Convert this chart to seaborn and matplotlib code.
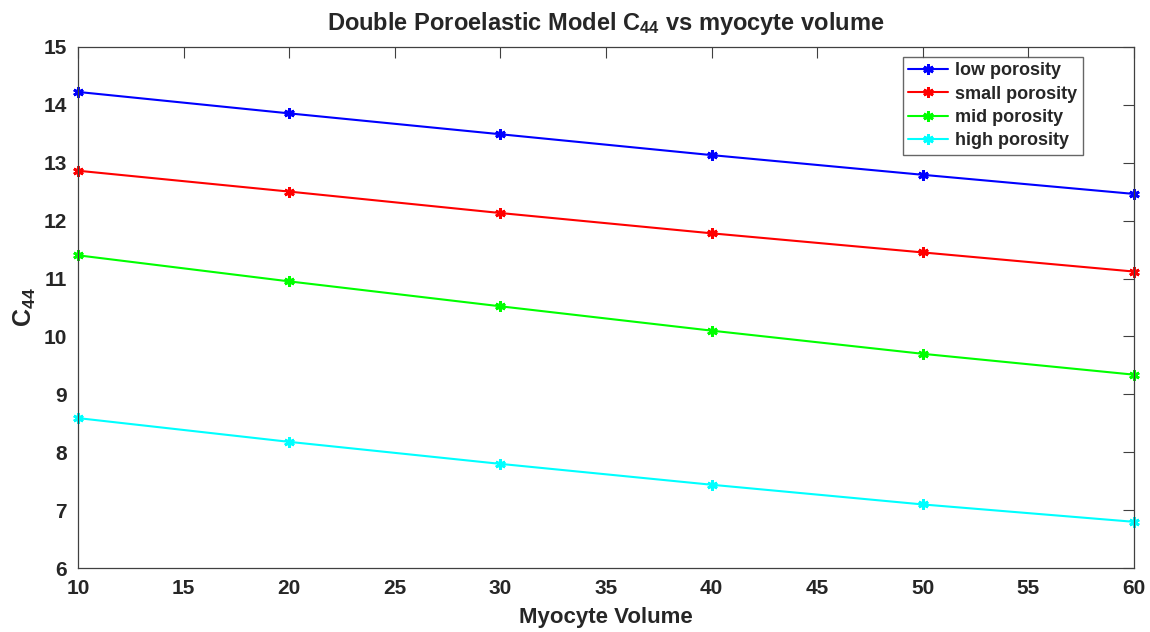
import pandas as pd
import seaborn as sns
from matplotlib import pyplot as plt

volume = [10, 20, 30, 40, 50, 60]
low = [14.22, 13.85, 13.49, 13.13, 12.79, 12.46]
small = [12.86, 12.50, 12.13, 11.78, 11.45, 11.12]
mid = [11.40, 10.95, 10.52, 10.10, 9.70, 9.34]
high = [8.59, 8.18, 7.80, 7.44, 7.10, 6.80]
labels = ['low porosity', 'small porosity', 'mid porosity', 'high porosity']
colors = ['#0000ff', '#ff0000', '#00ff00', '#00ffff']

rows = []
for lab, vals in zip(labels, [low, small, mid, high]):
    for v, c in zip(volume, vals):
        rows.append({'volume': v, 'C44': c, 'porosity': lab})
df = pd.DataFrame(rows)

sns.set_style('white')
plt.rcParams['font.family'] = ['Liberation Sans', 'DejaVu Sans']
plt.rcParams['font.weight'] = 'bold'
plt.rcParams['mathtext.fontset'] = 'custom'
plt.rcParams['mathtext.rm'] = 'Liberation Sans:bold'
plt.rcParams['mathtext.it'] = 'Liberation Sans:bold'
plt.rcParams['mathtext.bf'] = 'Liberation Sans:bold'

fig = plt.figure(figsize=(11.5, 6.32), dpi=100)
ax = fig.add_axes([0.068, 0.101, 0.918, 0.825])

# matlab-style asterisk marker
star = (6, 2, 0)
sns.lineplot(data=df, x='volume', y='C44', hue='porosity', style='porosity',
             palette=dict(zip(labels, colors)), markers=[star] * 4, dashes=False,
             markersize=7.5, markeredgewidth=2.0, linewidth=1.5, ax=ax)
for line in ax.lines:
    line.set_markeredgecolor(line.get_color())
    line.set_clip_on(False)

ax.set_xlim(10, 60)
ax.set_ylim(6, 15)
ax.set_xticks(range(10, 61, 5))
ax.set_yticks(range(6, 16))
ax.tick_params(direction='in', length=8, width=0.8, color='#404040',
               top=True, right=True, labelsize=15, pad=8)
for lbl in ax.get_xticklabels() + ax.get_yticklabels():
    lbl.set_fontweight('bold')
for s in ax.spines.values():
    s.set_color('#404040')
    s.set_linewidth(0.9)

ax.set_xlabel('Myocyte Volume', fontsize=16, fontweight='bold', labelpad=6)
ax.set_ylabel(r'C$_{44}$', fontsize=18, fontweight='bold', labelpad=4)
ax.set_title(r'Double Poroelastic Model C$_{44}$ vs myocyte volume',
             fontsize=17, fontweight='bold', pad=12)

leg = ax.legend(loc='upper right', bbox_to_anchor=(0.96, 0.998), fontsize=13,
                frameon=True, fancybox=False, edgecolor='#404040',
                handlelength=2.2, borderpad=0.3, labelspacing=0.35, handletextpad=0.4)
for t in leg.get_texts():
    t.set_fontweight('bold')
for h in leg.legend_handles:
    h.set_markeredgecolor(h.get_color())

fig.savefig('out.png', dpi=100)
